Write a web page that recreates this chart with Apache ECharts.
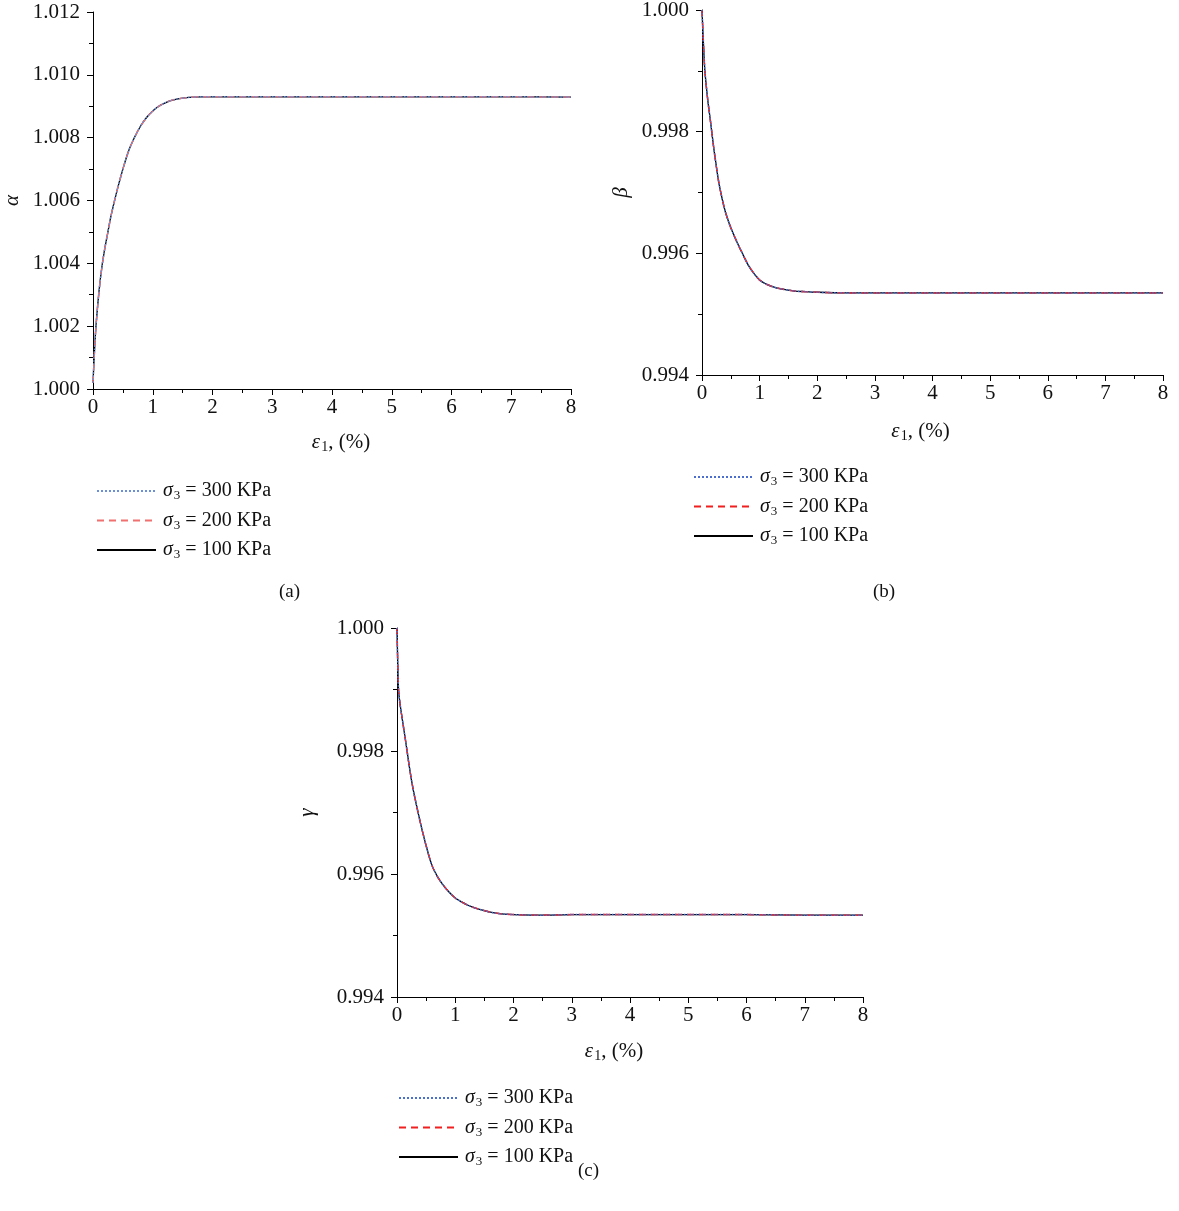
<!DOCTYPE html>
<html><head><meta charset="utf-8">
<script src="https://cdn.jsdelivr.net/npm/echarts@6/dist/echarts.min.js"></script>
<style>html,body{margin:0;padding:0;background:#fff}#c{width:1179px;height:1211px}</style>
</head><body><div id="c"></div>
<script>
// strain eps1 (%)
const xA = [0, 0.025, 0.05, 0.1, 0.15, 0.2, 0.25, 0.3, 0.4, 0.5, 0.6, 0.7, 0.8, 0.9, 1.0, 1.1, 1.2, 1.3, 1.4, 1.6, 1.8, 2.0, 2.5, 3, 4, 5, 6, 7, 8];
const alpha300 = [1.0002, 1.0012, 1.0020, 1.0031, 1.0039, 1.0045, 1.0050, 1.0055, 1.0063, 1.0070, 1.0076, 1.00803, 1.00838, 1.00865, 1.00885, 1.0090, 1.0091, 1.00918, 1.00923, 1.00928, 1.0093, 1.0093, 1.0093, 1.0093, 1.0093, 1.0093, 1.0093, 1.0093, 1.00929];
const alpha200 = [1.0002, 1.0012, 1.0020, 1.0031, 1.0039, 1.0045, 1.0050, 1.0055, 1.0063, 1.0070, 1.0076, 1.00803, 1.00838, 1.00865, 1.00885, 1.0090, 1.0091, 1.00918, 1.00923, 1.00928, 1.0093, 1.0093, 1.0093, 1.0093, 1.0093, 1.0093, 1.0093, 1.0093, 1.00929];
const alpha100 = [1.0002, 1.0012, 1.0020, 1.0031, 1.0039, 1.0045, 1.0050, 1.0055, 1.0063, 1.0070, 1.0076, 1.00803, 1.00838, 1.00865, 1.00885, 1.0090, 1.0091, 1.00918, 1.00923, 1.00928, 1.0093, 1.0093, 1.0093, 1.0093, 1.0093, 1.0093, 1.0093, 1.0093, 1.00929];

const xB = [0, 0.025, 0.05, 0.1, 0.15, 0.2, 0.25, 0.3, 0.4, 0.5, 0.6, 0.7, 0.8, 0.9, 1.0, 1.1, 1.2, 1.3, 1.4, 1.6, 1.8, 2.0, 2.5, 3, 4, 5, 6, 7, 8];
const beta300 = [1.0000, 0.99945, 0.99900, 0.99852, 0.99815, 0.99776, 0.99742, 0.99712, 0.99670, 0.99642, 0.99620, 0.99600, 0.99581, 0.99567, 0.99556, 0.99550, 0.99546, 0.99543, 0.99541, 0.99538, 0.99537, 0.99536, 0.99535, 0.99535, 0.99535, 0.99535, 0.99535, 0.99535, 0.99535];
const beta200 = [1.0000, 0.99945, 0.99900, 0.99852, 0.99815, 0.99776, 0.99742, 0.99712, 0.99670, 0.99642, 0.99620, 0.99600, 0.99581, 0.99567, 0.99556, 0.99550, 0.99546, 0.99543, 0.99541, 0.99538, 0.99537, 0.99536, 0.99535, 0.99535, 0.99535, 0.99535, 0.99535, 0.99535, 0.99535];
const beta100 = [1.0000, 0.99945, 0.99900, 0.99852, 0.99815, 0.99776, 0.99742, 0.99712, 0.99670, 0.99642, 0.99620, 0.99600, 0.99581, 0.99567, 0.99556, 0.99550, 0.99546, 0.99543, 0.99541, 0.99538, 0.99537, 0.99536, 0.99535, 0.99535, 0.99535, 0.99535, 0.99535, 0.99535, 0.99535];

const xC = [0, 0.025, 0.05, 0.1, 0.15, 0.2, 0.25, 0.3, 0.4, 0.5, 0.6, 0.7, 0.8, 0.9, 1.0, 1.1, 1.2, 1.3, 1.4, 1.6, 1.8, 2.0, 2.5, 3, 4, 5, 6, 7, 8];
const gamma300 = [1.0000, 0.99902, 0.99878, 0.99846, 0.99815, 0.99782, 0.99752, 0.99727, 0.99684, 0.99646, 0.99614, 0.99595, 0.99581, 0.99570, 0.99561, 0.99555, 0.99550, 0.99546, 0.99543, 0.99538, 0.99535, 0.99534, 0.99533, 0.99534, 0.99534, 0.99534, 0.99534, 0.99533, 0.99533];
const gamma200 = [1.0000, 0.99902, 0.99878, 0.99846, 0.99815, 0.99782, 0.99752, 0.99727, 0.99684, 0.99646, 0.99614, 0.99595, 0.99581, 0.99570, 0.99561, 0.99555, 0.99550, 0.99546, 0.99543, 0.99538, 0.99535, 0.99534, 0.99533, 0.99534, 0.99534, 0.99534, 0.99534, 0.99533, 0.99533];
const gamma100 = [1.0000, 0.99902, 0.99878, 0.99846, 0.99815, 0.99782, 0.99752, 0.99727, 0.99684, 0.99646, 0.99614, 0.99595, 0.99581, 0.99570, 0.99561, 0.99555, 0.99550, 0.99546, 0.99543, 0.99538, 0.99535, 0.99534, 0.99533, 0.99534, 0.99534, 0.99534, 0.99534, 0.99533, 0.99533];

const pressures = ['300', '200', '100'];
const yRangeA = [1.000, 1.012, 0.002];
const yRangeB = [0.994, 1.000, 0.002];
const yRangeC = [0.994, 1.000, 0.002];

const FONT = 'Liberation Serif';
const zip = (xs, ys) => xs.map((x, i) => [x, ys[i]]);

function richSub(fs) {
  return {
    i: {fontFamily: FONT, fontStyle: 'italic', fontSize: fs, color: '#111'},
    sub: {fontFamily: FONT, fontSize: Math.round(fs * 0.67), color: '#111', padding: [10, 0, 0, 1]},
    t: {fontFamily: FONT, fontSize: fs, color: '#111'}
  };
}

function xAxisCfg(gi, gap, pad) {
  return {
    gridIndex: gi, type: 'value', min: 0, max: 8, interval: 1,
    name: '{i|ε}{sub|1}{t|, (%)}', nameLocation: 'middle', nameGap: gap,
    nameTextStyle: {rich: richSub(21), padding: pad},
    axisLine: {onZero: false, lineStyle: {color: '#000', width: 1}},
    axisTick: {show: true, length: 6, inside: false, lineStyle: {color: '#000'}},
    minorTick: {show: true, splitNumber: 2, length: 4, lineStyle: {color: '#000'}},
    splitLine: {show: false},
    axisLabel: {fontFamily: FONT, fontSize: 21, color: '#111', margin: 8}
  };
}
function yAxisCfg(gi, r, nm, gap) {
  return {
    gridIndex: gi, type: 'value', min: r[0], max: r[1], interval: r[2],
    name: nm, nameLocation: 'middle', nameRotate: 90, nameGap: gap,
    nameTextStyle: {fontFamily: FONT, fontStyle: 'italic', fontSize: 21, color: '#111'},
    axisLine: {onZero: false, lineStyle: {color: '#000', width: 1}},
    axisTick: {show: true, length: 6, lineStyle: {color: '#000'}},
    minorTick: {show: true, splitNumber: 2, length: 4, lineStyle: {color: '#000'}},
    splitLine: {show: false},
    axisLabel: {fontFamily: FONT, fontSize: 21, color: '#111', margin: 13,
      formatter: v => v.toFixed(3)}
  };
}

const styles = {
  '300': {type: 'dotted', width: 1.5},
  '200': {type: [7, 5], width: 1.5},
  '100': {type: 'solid', width: 1.3}
};
const colorsA = {'300': '#6b8fd8', '200': '#f07070', '100': '#000'};
const colorsBC = {'300': '#4a6fcf', '200': '#f02020', '100': '#000'};

const series = [];
const panels = [
  {id: 'a', xs: xA, vals: {'300': alpha300, '200': alpha200, '100': alpha100}, colors: colorsA},
  {id: 'b', xs: xB, vals: {'300': beta300, '200': beta200, '100': beta100}, colors: colorsBC},
  {id: 'c', xs: xC, vals: {'300': gamma300, '200': gamma200, '100': gamma100}, colors: colorsBC}
];
panels.forEach((p, gi) => {
  ['100', '200', '300'].forEach(pr => {
    series.push({
      name: p.id + pr, type: 'line', xAxisIndex: gi, yAxisIndex: gi,
      data: zip(p.xs, p.vals[pr]), showSymbol: false, symbol: 'none', smooth: 0.25,
      lineStyle: Object.assign({color: p.colors[pr]}, styles[pr]),
      itemStyle: {color: p.colors[pr]}, silent: true, animation: false
    });
  });
});

function legendCfg(id, left, top) {
  return {
    orient: 'vertical', left: left, top: top, itemWidth: 59, itemHeight: 14, itemGap: 8,
    selectedMode: false,
    itemStyle: {opacity: 0},
    data: pressures.map(pr => id + pr),
    formatter: n => '{i|σ}{sub|3}{t| = ' + n.slice(1) + ' KPa}',
    textStyle: {rich: richSub(20), padding: [0, 0, 0, 2]}
  };
}

const gridBase = {outerBoundsMode: 'none', containLabel: false};
const chart = echarts.init(document.getElementById('c'), null, {renderer: 'canvas'});
chart.setOption({
  backgroundColor: '#fff',
  animation: false,
  grid: [
    Object.assign({left: 93, top: 12, width: 478, height: 377}, gridBase),
    Object.assign({left: 702, top: 10, width: 461, height: 365}, gridBase),
    Object.assign({left: 397, top: 628, width: 466, height: 369}, gridBase)
  ],
  xAxis: [xAxisCfg(0, 41, [0, 0, 0, 18]), xAxisCfg(1, 44, [0, 24, 0, 0]), xAxisCfg(2, 42, [0, 32, 0, 0])],
  yAxis: [yAxisCfg(0, yRangeA, 'α', 70), yAxisCfg(1, yRangeB, 'β', 70), yAxisCfg(2, yRangeC, 'γ', 79)],
  legend: [legendCfg('a', 91, 476), legendCfg('b', 688, 462), legendCfg('c', 393, 1083)],
  series: series,
  graphic: [
    {type: 'text', left: 279, top: 583, style: {text: '(a)', font: '19px "Liberation Serif"', fill: '#111'}},
    {type: 'text', left: 873, top: 583, style: {text: '(b)', font: '19px "Liberation Serif"', fill: '#111'}},
    {type: 'text', left: 578, top: 1162, style: {text: '(c)', font: '19px "Liberation Serif"', fill: '#111'}}
  ]
});
</script></body></html>
